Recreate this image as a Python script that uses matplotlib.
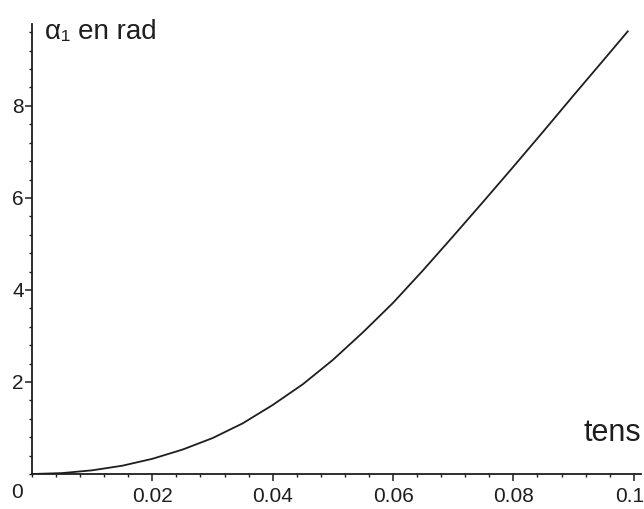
import numpy as np
import matplotlib.pyplot as plt
import matplotlib.transforms as mtransforms
from matplotlib.ticker import MultipleLocator

plt.rcParams['font.family'] = ['Liberation Sans', 'DejaVu Sans']

# temps (s) et angle alpha_1 (rad)
t = [0, 0.005, 0.01, 0.015, 0.02, 0.025, 0.03, 0.035, 0.04, 0.045, 0.05,
     0.055, 0.06, 0.065, 0.07, 0.075, 0.08, 0.085, 0.09, 0.095, 0.099]
alpha = [0, 0.02, 0.08, 0.18, 0.33, 0.53, 0.78, 1.1, 1.5, 1.95, 2.48,
         3.08, 3.72, 4.43, 5.17, 5.92, 6.68, 7.45, 8.23, 9.0, 9.62]

xticks = [0.02, 0.04, 0.06, 0.08, 0.1]
xticklabels = ['0.02', '0.04', '0.06', '0.08', '0.1']
yticks = [2, 4, 6, 8]

fig = plt.figure(figsize=(6.44, 5.09), dpi=100)
ax = fig.add_axes([32 / 644, 35 / 509, 609 / 644, 450 / 509])

ax.plot(t, alpha, color='#1e1e1e', lw=1.3)

ax.set_xlim(0, 0.1012)
ax.set_ylim(0, 9.78)

for s in ['top', 'right']:
    ax.spines[s].set_visible(False)
for s in ['left', 'bottom']:
    ax.spines[s].set_linewidth(1.3)
    ax.spines[s].set_color('#1e1e1e')

ax.set_xticks(xticks)
ax.set_xticklabels(xticklabels)
ax.set_yticks(yticks)
ax.xaxis.set_minor_locator(MultipleLocator(0.004))
ax.yaxis.set_minor_locator(MultipleLocator(0.4))
ax.tick_params(which='major', length=5, width=1.1, color='#1e1e1e',
               labelsize=15, labelcolor='#1e1e1e')
ax.tick_params(which='minor', length=2.5, width=1.0, color='#1e1e1e')
ax.tick_params(axis='x', which='major', pad=4)
ax.tick_params(axis='y', which='major', pad=1)

# decaler un peu le dernier label pour qu'il reste dans l'image
last = ax.get_xticklabels()[-1]
last.set_transform(last.get_transform() +
                   mtransforms.ScaledTranslation(-4 / 100, 0, fig.dpi_scale_trans))

ax.text(-0.0015, -0.4, '0', fontsize=15, color='#1e1e1e',
        ha='right', va='center', clip_on=False)
ax.text(0.0022, 9.6, 'α₁ en rad', fontsize=20, color='#1e1e1e',
        ha='left', va='center', clip_on=False)
ax.text(0.1012, 0.9, 'tens', fontsize=22, color='#1e1e1e',
        ha='right', va='center', clip_on=False)

fig.savefig('out.png', dpi=100)
